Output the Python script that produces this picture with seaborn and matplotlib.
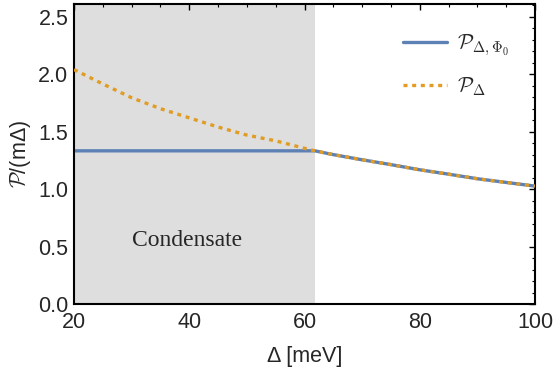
import matplotlib
matplotlib.use("Agg")
import matplotlib.pyplot as plt
import seaborn as sns
import pandas as pd
from matplotlib.ticker import MultipleLocator

sns.set_theme(style="white")
plt.rcParams['font.family'] = ['Liberation Sans', 'DejaVu Sans']
plt.rcParams['mathtext.fontset'] = 'cm'

# Data
delta = [20, 25, 30, 35, 40, 45, 50, 55, 60, 61.8, 65, 70, 75, 80, 85, 90, 95, 100]
p_delta = [2.04, 1.915, 1.795, 1.70, 1.62, 1.54, 1.47, 1.42, 1.355, 1.333,
           1.30, 1.255, 1.213, 1.168, 1.13, 1.09, 1.058, 1.026]
p_delta_phi0 = [1.333, 1.333, 1.333, 1.333, 1.333, 1.333, 1.333, 1.333, 1.333, 1.333,
                1.30, 1.255, 1.213, 1.168, 1.13, 1.09, 1.058, 1.026]
condensate_edge = 61.8
series_names = [r'$\mathcal{P}_{\Delta,\Phi_0}$', r'$\mathcal{P}_{\Delta}$']

df = pd.DataFrame({
    'delta': delta * 2,
    'P': p_delta_phi0 + p_delta,
    'series': [series_names[0]] * len(delta) + [series_names[1]] * len(delta),
})

fig = plt.figure(figsize=(5.54, 3.73), dpi=100)
ax = fig.add_axes([0.1336, 0.185, 0.8321, 0.804])

ax.axvspan(20, condensate_edge, color='#DEDEDE', lw=0, zorder=0)

blue = '#5E81B5'
orange = '#E19C24'
sns.lineplot(data=df[df.series == series_names[0]], x='delta', y='P', ax=ax,
             color=blue, lw=2.4, label=series_names[0], zorder=2)
sns.lineplot(data=df[df.series == series_names[1]], x='delta', y='P', ax=ax,
             color=orange, lw=2.4, label=series_names[1], zorder=3,
             dashes=False)
ax.lines[-1].set_dashes((1.2, 1.4))

ax.set_xlim(20, 100)
ax.set_ylim(0, 2.61)
ax.xaxis.set_major_locator(MultipleLocator(20))
ax.xaxis.set_minor_locator(MultipleLocator(5))
ax.yaxis.set_major_locator(MultipleLocator(0.5))
ax.yaxis.set_minor_locator(MultipleLocator(0.1))
ax.tick_params(which='both', direction='in', top=True, right=True,
               labelsize=15.5, color='black')
ax.tick_params(axis='x', which='major', pad=6)
ax.tick_params(axis='y', which='major', pad=4)
ax.tick_params(which='major', length=4, width=1.0)
ax.tick_params(which='minor', length=2.5, width=0.8)
for s in ax.spines.values():
    s.set_color('black')
    s.set_linewidth(1.5)

ax.set_xlabel('Δ [meV]', fontsize=15.5, labelpad=9)
ax.set_ylabel(r'$\mathcal{P}$/(mΔ)', fontsize=15.5, labelpad=4)

ax.text(39.6, 0.55, 'Condensate', fontsize=17, family=['Liberation Serif'],
        ha='center', va='center')

leg = ax.legend(loc='upper right', bbox_to_anchor=(0.985, 0.97), frameon=False,
                fontsize=15, handlelength=2.1, handletextpad=0.5, labelspacing=0.85)

fig.savefig('out.png', dpi=100)
